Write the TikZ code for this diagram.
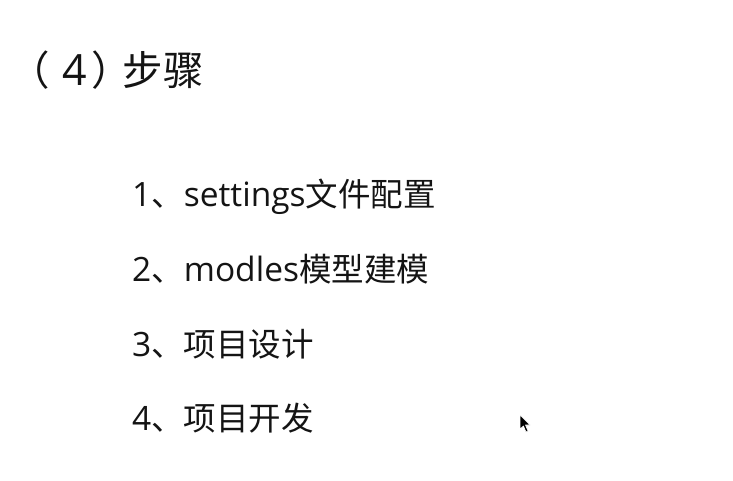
\documentclass[tikz,border=0pt]{standalone}
\usepackage{fontspec}
\setmainfont{Noto Sans CJK SC}
\newfontfamily\lat{Open Sans}
\definecolor{txt}{RGB}{20,20,20}
\newcommand{\latw}[1]{{\lat\fontsize{33.5}{40}\selectfont #1}}
\begin{document}
\begin{tikzpicture}[x=1pt,y=-1pt,
  titletext/.style={inner sep=0pt,anchor=base west,text=txt,font=\fontsize{40.5}{50}\selectfont},
  itemtext/.style={inner sep=0pt,anchor=base west,text=txt,font=\fontsize{32.5}{38}\selectfont}]
\useasboundingbox[fill=white] (0,0) rectangle (733,481);
\node[titletext] (title) at (9,86) {（\kern13pt{\lat\fontsize{43}{50}\selectfont 4}\kern4pt ）\kern-9pt 步骤};
\node[itemtext] (i1) at (132,206) {\latw{1}、\latw{settings}文件配置};
\node[itemtext] (i2) at (132,281) {\latw{2}、\latw{modles}模型建模};
\node[itemtext] (i3) at (132,356) {\latw{3}、项目设计};
\node[itemtext] (i4) at (132,430) {\latw{4}、项目开发};
\draw[fill=black,draw=white,line width=0.6pt,line join=round]
  (520,415) -- (520,429) -- (523.5,426) -- (526,432) -- (528,431) -- (525.5,425) -- (530,425) -- cycle;
\end{tikzpicture}
\end{document}
